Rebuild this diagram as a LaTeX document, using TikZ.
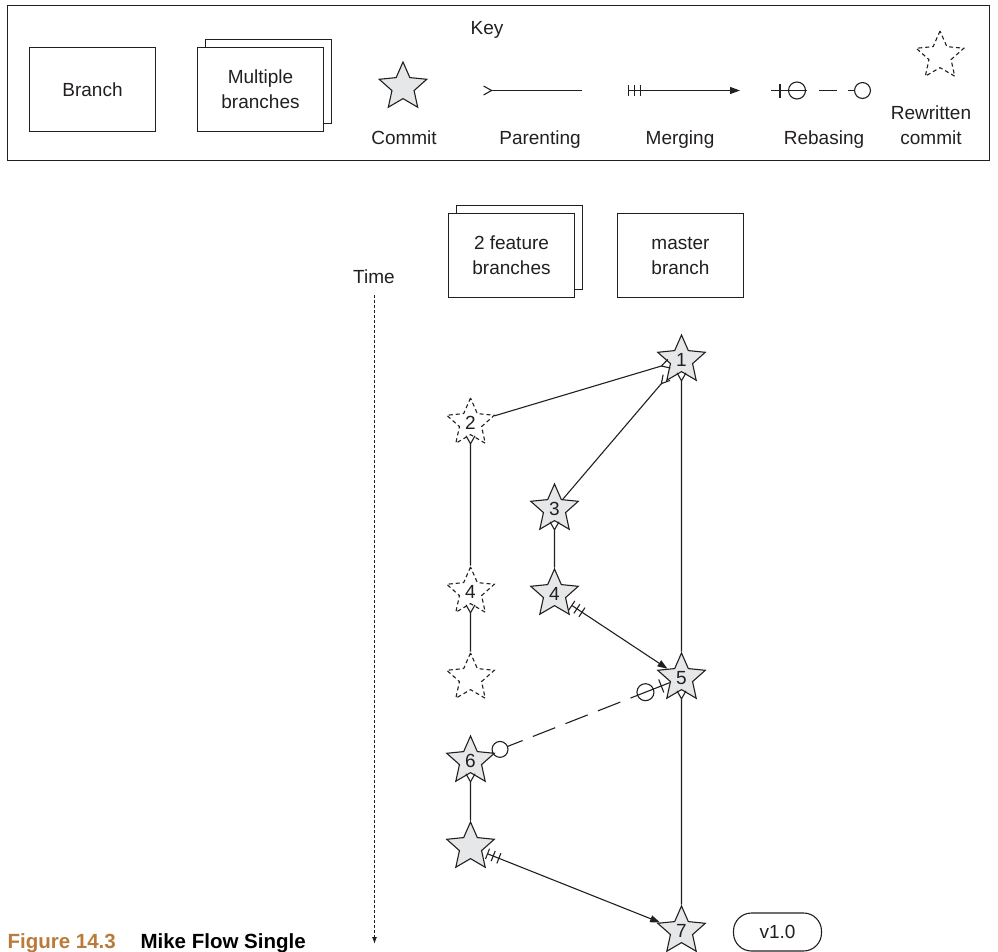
\documentclass[tikz,border=0pt]{standalone}
\usepackage{fontspec}
\setmainfont{Liberation Sans}
\usetikzlibrary{shapes.geometric,arrows.meta,shadows,decorations.markings}
\definecolor{ink}{HTML}{231F20}
\definecolor{starfill}{HTML}{E6E7E8}
\definecolor{figorange}{RGB}{185,122,58}
\tikzset{%
  branch/.style    = {shape=rectangle, draw, fill=white, align=center,%
                      minimum width=126pt, minimum height=84pt},%
  branches/.style  = {branch, copy shadow={shadow xshift=8pt, shadow yshift=8pt}},%
  commit/.style    = {star, star points=5, star point ratio=2.15, draw,%
                      fill=starfill, inner sep=0pt, minimum size=50pt},%
  rewritten/.style = {commit, fill=white, dash pattern=on 4pt off 3pt},%
  lbl/.style       = {anchor=base, inner sep=0pt},%
  parent/.style    = {-{Straight Barb[reversed, length=8pt, width=9pt]}},%
  merge/.style     = {{Bar[width=11pt, sep=5pt]Bar[width=11pt, sep=5pt]Bar[width=11pt, sep=5pt]}-{Triangle[length=10pt, width=7pt]}},%
  rebase/.style    = {dash pattern=on 42pt off 11pt on 24pt off 11pt on 24pt off 11pt on 24pt off 11pt on 24pt off 11pt,%
                      -{Circle[open, length=17pt]},%
                      postaction={decorate, decoration={markings,%
                        mark=at position 9pt with {\draw[solid, -] (0,-7pt) -- (0,7pt);},%
                        mark=at position 26pt with {\draw[solid, -] (0,0) circle (8.5pt);}}}},%
  timeline/.style  = {dash pattern=on 3pt off 2pt, -{Latex[length=7pt, width=5pt]}}%
}
\begin{document}
\begin{tikzpicture}[x=1pt,y=-1pt,color=ink,line width=1.1pt,font=\fontsize{19}{25}\selectfont]
	\useasboundingbox (0,0) rectangle (998,951);

	% key
	\draw (7.5,5.5) rectangle (989.5,160.5);
	\node[lbl] (key) at (487,34) {Key};
	\node[branch] (kbranch) at (92.5,89.5) {Branch};
	\node[branches] (kbranches) at (260.5,89.5) {Multiple\\branches};
	\node[commit] (kcommit) at (403,87) {};
	\node[lbl] (kcommitl) at (404,144) {Commit};
	\coordinate (kpa) at (483,90.5);
	\coordinate (kpb) at (582,90.5);
	\node[lbl] (kparentl) at (540,144) {Parenting};
	\coordinate (kma) at (623,90.5);
	\coordinate (kmb) at (740,90.5);
	\node[lbl] (kmergel) at (680,144) {Merging};
	\coordinate (kra) at (771,90.5);
	\coordinate (krb) at (871,90.5);
	\node[lbl] (krebasel) at (824,144) {Rebasing};
	\node[rewritten] (krewritten) at (940,56) {};
	\node[align=center] (krewrittenl) at (931,125) {Rewritten\\commit};

	% branches and time
	\node[branches] (feature) at (511.5,255.5) {2 feature\\branches};
	\node[branch] (master) at (680.5,255.5) {master\\branch};
	\node (time) at (374,277) {Time};
	\coordinate (t0) at (374.5,295);
	\coordinate (t1) at (374.5,944);

	% commits
	\node[commit] (c1) at (681.5,360) {1};
	\node[rewritten] (c2) at (470.5,423) {2};
	\node[commit] (c3) at (554.5,509) {3};
	\node[commit] (c4) at (554.5,594) {4};
	\node[rewritten] (c4r) at (470.5,592) {4};
	\node[rewritten] (c5r) at (470.5,678) {};
	\node[commit] (c5) at (681.5,678) {5};
	\node[commit] (c6) at (470.5,761) {6};
	\node[commit] (c7a) at (470.5,847) {};
	\node[commit] (c7) at (681.5,931) {7};
	\node[draw, rounded corners=18pt, minimum width=88pt, minimum height=38pt] (tag) at (777.5,932) {v1.0};

	\node[lbl, anchor=base west, font=\fontsize{20.5}{22}\selectfont\bfseries, text=figorange] (fignum) at (7,948) {Figure 14.3};
	\node[lbl, anchor=base west, font=\fontsize{20.5}{22}\selectfont\bfseries, text=black] (figtitle) at (140,948) {Mike Flow Single};

	\draw[parent] (kpb) -- (kpa);
	\draw[merge] (kma) -- (kmb);
	\draw[rebase, dash pattern=on 36pt off 12pt on 18pt off 11pt] (kra) -- (krb);
	\draw[timeline] (t0) -- (t1);
	\draw[parent] (c2) -- (c1);
	\draw[parent] (c3) -- (c1);
	\draw[parent] (c5) -- (c1);
	\draw[parent] (c4r) -- (c2);
	\draw[parent] (c5r) -- (c4r);
	\draw[parent] (c4) -- (c3);
	\draw[merge] (c4) -- (c5);
	\draw[rebase] (c5) -- (c6);
	\draw[parent] (c7a) -- (c6);
	\draw[merge] (c7a) -- (c7);
	\draw[parent] (c7) -- (c5);
\end{tikzpicture}
\end{document}
